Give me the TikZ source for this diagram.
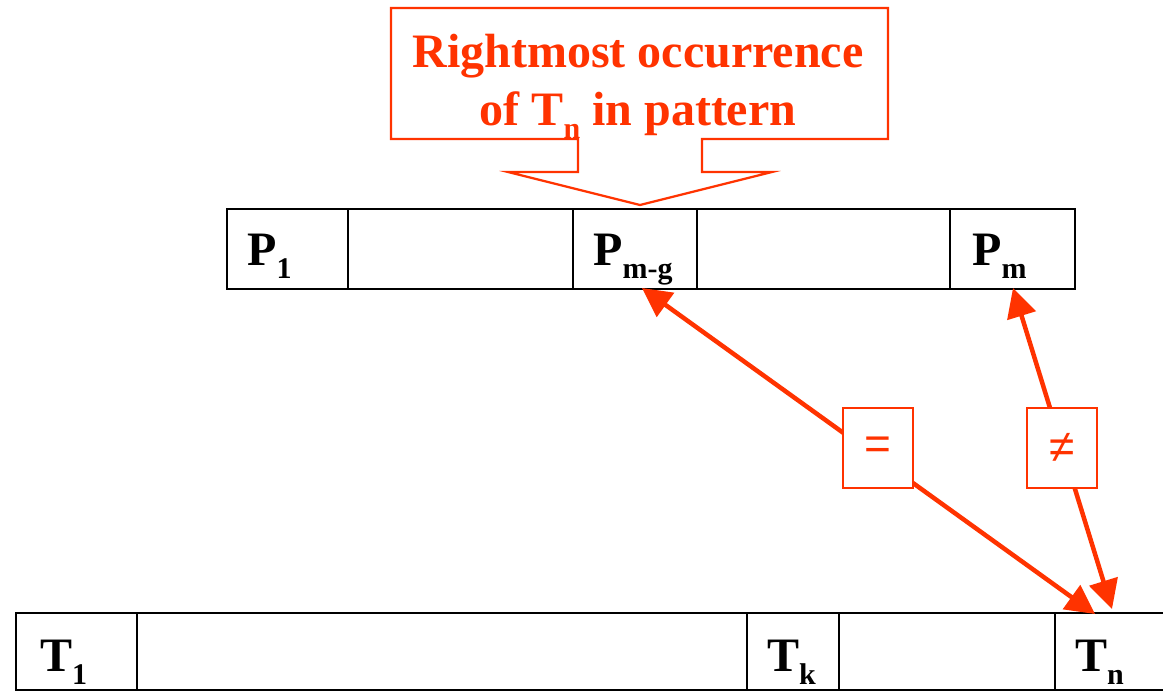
\documentclass[tikz,border=0pt]{standalone}
\usepackage{fontspec}
\setmainfont{Liberation Serif}
\newfontfamily\symfont{Liberation Sans}
\usetikzlibrary{arrows.meta}
\definecolor{callred}{RGB}{255,51,0}
\newcommand{\lsub}[1]{\raisebox{-13pt}{\fontsize{30}{30}\selectfont #1}}
\tikzset{
  cell/.style={draw=black, line width=1.6pt, rectangle, inner sep=0pt, anchor=north west},
  lbl/.style={anchor=base west, inner sep=0pt, font=\fontsize{48}{48}\selectfont\bfseries},
  relbox/.style={draw=callred, line width=1.8pt, fill=white, rectangle, inner sep=0pt,
    minimum width=70pt, minimum height=80pt, text=callred, font=\symfont\fontsize{46}{46}\selectfont},
  matcharrow/.style={draw=callred, line width=4.5pt,
    {Triangle[length=29pt,width=29pt]}-{Triangle[length=29pt,width=29pt]}}
}
\begin{document}
\begin{tikzpicture}[x=1pt,y=-1pt]
\useasboundingbox (0,0) rectangle (1163,691);
% callout
\draw[callred, line width=2.2pt, fill=white, line join=miter]
  (391,8) -- (888,8) -- (888,139) -- (702,139) -- (702,172) -- (772,172) -- (640,205)
  -- (508,172) -- (578,172) -- (578,139) -- (391,139) -- cycle;
\node[anchor=base, inner sep=0pt, text=callred, font=\fontsize{48}{48}\selectfont\bfseries] (ttl1) at (638,67) {Rightmost occurrence};
\node[anchor=base, inner sep=0pt, text=callred, font=\fontsize{48}{48}\selectfont\bfseries] (ttl2) at (638,125) {of T\lsub{n} in pattern};
% pattern row
\node[cell, minimum width=121pt, minimum height=80pt] (p1) at (226,208) {};
\node[cell, minimum width=225pt, minimum height=80pt] (pa) at (347,208) {};
\node[cell, minimum width=124pt, minimum height=80pt] (pmg) at (572,208) {};
\node[cell, minimum width=253pt, minimum height=80pt] (pb) at (696,208) {};
\node[cell, minimum width=125pt, minimum height=80pt] (pm) at (949,208) {};
\node[lbl] (p1l) at (247,265) {P\lsub{1}};
\node[lbl] (pmgl) at (593,265) {P\lsub{m-g}};
\node[lbl] (pml) at (972,265) {P\lsub{m}};
% text row
\node[cell, minimum width=121pt, minimum height=77pt] (t1) at (15,612) {};
\node[cell, minimum width=610pt, minimum height=77pt] (ta) at (136,612) {};
\node[cell, minimum width=92pt, minimum height=77pt] (tk) at (746,612) {};
\node[cell, minimum width=216pt, minimum height=77pt] (tb) at (838,612) {};
\node[cell, minimum width=140pt, minimum height=77pt] (tn) at (1054,612) {};
\node[lbl] (t1l) at (40,671) {T\lsub{1}};
\node[lbl] (tkl) at (767,671) {T\lsub{k}};
\node[lbl] (tnl) at (1075,671) {T\lsub{n}};
% arrows
\coordinate (a1s) at (642,288);
\coordinate (a1e) at (1095,614);
\coordinate (a2s) at (1013,288);
\coordinate (a2e) at (1112,609);
\draw[matcharrow] (a1s) -- (a1e);
\draw[matcharrow] (a2s) -- (a2e);
\node[relbox] (eq) at (878,448) {=};
\node[relbox] (neq) at (1062,448) {≠};
\end{tikzpicture}
\end{document}
